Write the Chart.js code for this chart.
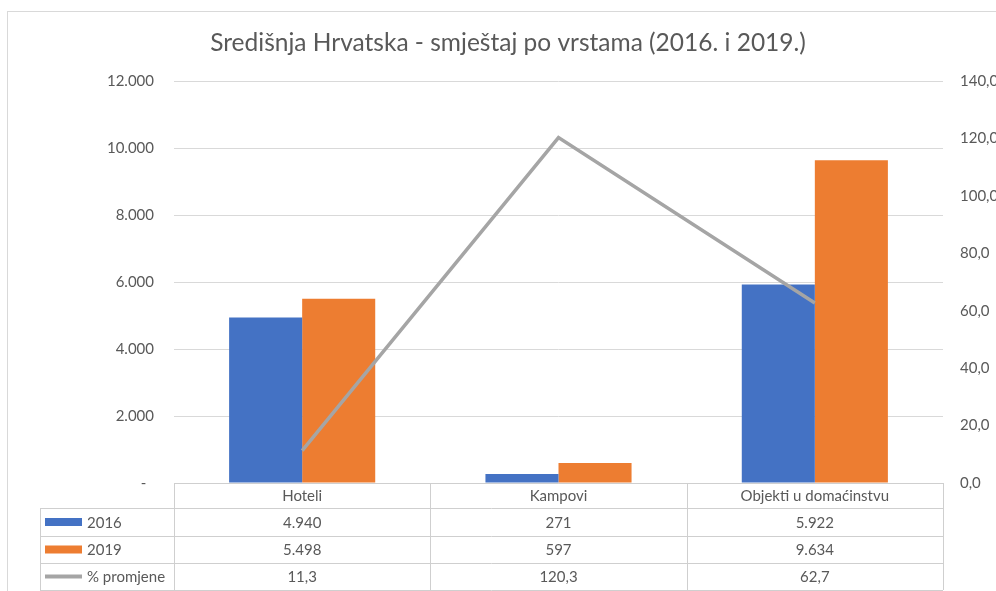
<!DOCTYPE html>
<html>
<head>
<meta charset="utf-8">
<script src="https://cdn.jsdelivr.net/npm/chart.js@4"></script>
<style>
html,body{margin:0;padding:0;background:#fff;}
#c{display:block;}
</style>
</head>
<body>
<canvas id="c" width="996" height="591"></canvas>
<script>
const title = 'Središnja Hrvatska - smještaj po vrstama (2016. i 2019.)';
const categories = ['Hoteli', 'Kampovi', 'Objekti u domaćinstvu'];
const series2016 = [4940, 271, 5922];
const series2019 = [5498, 597, 9634];
const seriesPct = [11.3, 120.3, 62.7];
const seriesNames = ['2016', '2019', '% promjene'];
const leftTicks = [0, 2000, 4000, 6000, 8000, 10000, 12000];
const rightTicks = [0, 20, 40, 60, 80, 100, 120, 140];

const FONT = 'Lato';
const TXT = '#595959';
const COLORS = ['#4472C4', '#ED7D31', '#A5A5A5'];

function fmtThousands(v) {
  return String(Math.round(v)).replace(/\B(?=(\d{3})+(?!\d))/g, '.');
}
function fmtDec(v) {
  return v.toFixed(1).replace('.', ',');
}

const tablePlugin = {
  id: 'tablePlugin',
  afterDraw(chart) {
    const ctx = chart.ctx;
    const ca = chart.chartArea;
    const xs = chart.scales.x;
    ctx.save();
    // outer frame
    ctx.strokeStyle = '#d9d9d9';
    ctx.lineWidth = 1;
    ctx.strokeRect(7.5, 11.5, 1200, 800);
    // title
    ctx.fillStyle = TXT;
    ctx.font = '24.5px ' + FONT;
    ctx.textAlign = 'center';
    ctx.textBaseline = 'middle';
    ctx.fillText(title, 508, 43);

    // table
    const n = categories.length;
    const colW = (ca.right - ca.left) / n;
    const rows = [ca.bottom, 508, 536, 563, 590];
    const leftX = 40;
    ctx.strokeStyle = '#cfcfcf';
    ctx.lineWidth = 1;
    ctx.beginPath();
    ctx.moveTo(ca.left, Math.round(rows[0]) + 0.5);
    ctx.lineTo(ca.right, Math.round(rows[0]) + 0.5);
    for (let r = 1; r < rows.length; r++) {
      ctx.moveTo(leftX, rows[r] + 0.5);
      ctx.lineTo(ca.right, rows[r] + 0.5);
    }
    for (let i = 0; i <= n; i++) {
      const x = Math.round(ca.left + i * colW) + 0.5;
      ctx.moveTo(x, rows[0]);
      ctx.lineTo(x, rows[4]);
    }
    ctx.moveTo(leftX + 0.5, rows[1]);
    ctx.lineTo(leftX + 0.5, rows[4]);
    ctx.stroke();

    ctx.fillStyle = TXT;
    ctx.font = '15px ' + FONT;
    ctx.textAlign = 'center';
    ctx.textBaseline = 'middle';
    const data = [series2016.map(fmtThousands), series2019.map(fmtThousands), seriesPct.map(fmtDec)];
    for (let i = 0; i < n; i++) {
      const cx = xs.getPixelForValue(i);
      ctx.fillText(categories[i], cx, (rows[0] + rows[1]) / 2 + 1);
      for (let r = 0; r < 3; r++) {
        ctx.fillText(data[r][i], cx, (rows[r + 1] + rows[r + 2]) / 2 + 1);
      }
    }
    // legend keys
    ctx.textAlign = 'left';
    for (let r = 0; r < 3; r++) {
      const cy = (rows[r + 1] + rows[r + 2]) / 2;
      if (r < 2) {
        ctx.fillStyle = COLORS[r];
        ctx.fillRect(45, cy - 4, 37, 8);
      } else {
        ctx.strokeStyle = COLORS[2];
        ctx.lineWidth = 4;
        ctx.beginPath();
        ctx.moveTo(45, cy);
        ctx.lineTo(82, cy);
        ctx.stroke();
      }
      ctx.fillStyle = TXT;
      ctx.fillText(seriesNames[r], 87, cy + 1);
    }
    ctx.restore();
  }
};

new Chart(document.getElementById('c'), {
  data: {
    labels: categories,
    datasets: [
      { type: 'line', label: seriesNames[2], data: seriesPct, yAxisID: 'y1', borderColor: COLORS[2], borderWidth: 3.5, pointRadius: 0, tension: 0, order: 0 },
      { type: 'bar', label: seriesNames[0], data: series2016, yAxisID: 'y', backgroundColor: COLORS[0], order: 1, categoryPercentage: 0.57, barPercentage: 1.0 },
      { type: 'bar', label: seriesNames[1], data: series2019, yAxisID: 'y', backgroundColor: COLORS[1], order: 2, categoryPercentage: 0.57, barPercentage: 1.0 }
    ]
  },
  options: {
    responsive: false,
    animation: false,
    devicePixelRatio: 1,
    layout: { padding: { top: 81, bottom: 108, left: 0, right: 0 } },
    plugins: { legend: { display: false }, title: { display: false }, tooltip: { enabled: false } },
    scales: {
      x: { display: false, offset: true },
      y: {
        position: 'left', min: 0, max: 12000,
        afterBuildTicks(s) { s.ticks = leftTicks.map(v => ({ value: v })); },
        afterFit(s) { s.width = 174; },
        border: { display: false },
        grid: { color: '#d9d9d9', drawTicks: false, lineWidth: 1 },
        ticks: { padding: 20, color: TXT, font: { family: FONT, size: 15 },
          callback: v => v === 0 ? '-  ' : fmtThousands(v) }
      },
      y1: {
        position: 'right', min: 0, max: 140,
        afterBuildTicks(s) { s.ticks = rightTicks.map(v => ({ value: v })); },
        afterFit(s) { s.width = 53; },
        border: { display: false },
        grid: { display: false, drawTicks: false },
        ticks: { padding: 17, color: TXT, font: { family: FONT, size: 15 },
          callback: v => fmtDec(v) }
      }
    }
  },
  plugins: [tablePlugin]
});
</script>
</body>
</html>
